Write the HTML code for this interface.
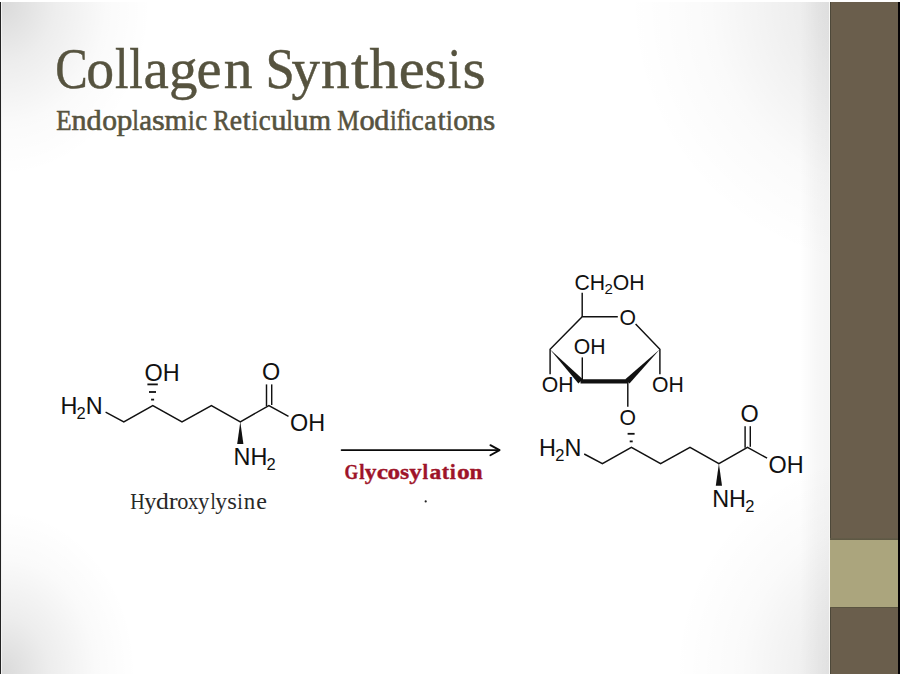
<!DOCTYPE html>
<html><head><meta charset="utf-8">
<style>
html,body{margin:0;padding:0;width:900px;height:675px;overflow:hidden;background:#fff;}
#slide{position:absolute;left:0;top:0;width:900px;height:675px;background:#fff;}
#bg{position:absolute;left:2px;top:2px;width:896px;height:672px;
 background:
  radial-gradient(ellipse 150px 175px at 0px 0px, rgba(0,0,0,0.15) 0%, rgba(0,0,0,0.07) 35%, rgba(0,0,0,0.02) 70%, rgba(0,0,0,0) 100%),
  radial-gradient(ellipse 135px 165px at 0px 672px, rgba(0,0,0,0.15) 0%, rgba(0,0,0,0.07) 35%, rgba(0,0,0,0.02) 70%, rgba(0,0,0,0) 100%),
  radial-gradient(circle 270px at 896px 0px, rgba(0,0,0,0.15) 0%, rgba(0,0,0,0.07) 35%, rgba(0,0,0,0.02) 70%, rgba(0,0,0,0) 100%),
  radial-gradient(circle 225px at 896px 672px, rgba(0,0,0,0.15) 0%, rgba(0,0,0,0.07) 35%, rgba(0,0,0,0.02) 70%, rgba(0,0,0,0) 100%),
  #ffffff;}
#shadow{position:absolute;left:800px;top:2px;width:29px;height:672px;background:linear-gradient(to right, rgba(0,0,0,0) 0%, rgba(0,0,0,0.03) 60%, rgba(0,0,0,0.045) 100%);}
#wline{position:absolute;left:829px;top:2px;width:1px;height:672px;background:#f8f8f6;}
#lline{position:absolute;left:0;top:2px;width:1px;height:672px;background:#222;}
#lline2{position:absolute;left:1px;top:2px;width:1px;height:672px;background:#f2f2f2;}
#bar{position:absolute;left:830px;top:2px;width:68px;height:672px;background:#6a5e4c;}
#barl{position:absolute;left:830px;top:2px;width:1px;height:672px;background:#4d4839;}
#khaki{position:absolute;left:830px;top:540px;width:68px;height:67px;background:#aba57d;}
#kt{position:absolute;left:830px;top:538px;width:68px;height:2px;background:linear-gradient(#645d49,#5c5642);}
#kb{position:absolute;left:830px;top:607px;width:68px;height:1px;background:#5a5440;}
#rblack{position:absolute;left:898px;top:2px;width:2px;height:672px;background:#050305;}
svg{position:absolute;left:0;top:0;}
.t{font-family:"Liberation Serif",serif;}
.s{font-family:"Liberation Sans",sans-serif;}
</style></head>
<body><div id="slide">
<div id="bg"></div><div id="shadow"></div><div id="wline"></div>
<div id="lline"></div><div id="lline2"></div>
<div id="bar"></div><div id="barl"></div><div id="khaki"></div><div id="kt"></div><div id="kb"></div><div id="rblack"></div>
<svg width="900" height="675" viewBox="0 0 900 675">
 <g class="t" fill="#56533f" stroke="#56533f" stroke-width="0.45">
  <g font-size="58">
  <text transform="translate(55.14,88) scale(0.840,1)">C</text>
  <text transform="translate(86.28,88) scale(0.960,1)">o</text>
  <text transform="translate(114.98,88) scale(0.840,1)">l</text>
  <text transform="translate(129.18,88) scale(0.840,1)">l</text>
  <text transform="translate(143.58,88) scale(0.983,1)">a</text>
  <text transform="translate(168.89,88) scale(0.983,1)">g</text>
  <text transform="translate(196.45,88) scale(0.973,1)">e</text>
  <text transform="translate(223.71,88) scale(0.994,1)">n</text>
  <text transform="translate(265.60,88) scale(0.908,1)">S</text>
  <text transform="translate(291.61,88) scale(0.982,1)">y</text>
  <text transform="translate(320.91,88) scale(0.991,1)">n</text>
  <text transform="translate(350.90,88) scale(1.120,1)">t</text>
  <text transform="translate(369.55,88) scale(0.991,1)">h</text>
  <text transform="translate(398.78,88) scale(1.009,1)">e</text>
  <text transform="translate(424.52,88) scale(0.968,1)">s</text>
  <text transform="translate(447.82,88) scale(0.840,1)">i</text>
  <text transform="translate(462.39,88) scale(1.027,1)">s</text>
  </g>
  <g font-size="30" stroke-width="0.6">
  <text transform="translate(56.28,130) scale(0.836,1)">E</text>
  <text transform="translate(71.50,130) scale(1.004,1)">n</text>
  <text transform="translate(86.54,130) scale(1.011,1)">d</text>
  <text transform="translate(102.26,130) scale(0.985,1)">o</text>
  <text transform="translate(116.74,130) scale(1.040,1)">p</text>
  <text transform="translate(132.20,130) scale(0.800,1)">l</text>
  <text transform="translate(139.28,130) scale(0.960,1)">a</text>
  <text transform="translate(151.90,130) scale(1.097,1)">s</text>
  <text transform="translate(164.45,130) scale(0.983,1)">m</text>
  <text transform="translate(188.00,130) scale(0.800,1)">i</text>
  <text transform="translate(195.33,130) scale(0.892,1)">c</text>
  <text transform="translate(213.29,130) scale(0.825,1)">R</text>
  <text transform="translate(229.78,130) scale(0.922,1)">e</text>
  <text transform="translate(242.70,130) scale(0.941,1)">t</text>
  <text transform="translate(251.40,130) scale(0.800,1)">i</text>
  <text transform="translate(258.63,130) scale(0.892,1)">c</text>
  <text transform="translate(271.00,130) scale(1.037,1)">u</text>
  <text transform="translate(286.35,130) scale(0.800,1)">l</text>
  <text transform="translate(293.00,130) scale(1.037,1)">u</text>
  <text transform="translate(308.76,130) scale(0.957,1)">m</text>
  <text transform="translate(337.29,130) scale(0.824,1)">M</text>
  <text transform="translate(359.54,130) scale(1.015,1)">o</text>
  <text transform="translate(374.25,130) scale(1.004,1)">d</text>
  <text transform="translate(390.00,130) scale(0.800,1)">i</text>
  <text transform="translate(396.85,130) scale(0.800,1)">fi</text>
  <text transform="translate(411.61,130) scale(0.917,1)">c</text>
  <text transform="translate(424.30,130) scale(0.936,1)">a</text>
  <text transform="translate(437.70,130) scale(0.941,1)">t</text>
  <text transform="translate(446.00,130) scale(0.800,1)">i</text>
  <text transform="translate(453.26,130) scale(0.985,1)">o</text>
  <text transform="translate(467.47,130) scale(1.053,1)">n</text>
  <text transform="translate(483.27,130) scale(1.026,1)">s</text>
  </g>
 </g>
 <!-- left molecule -->
 
 <g>
  <g fill="none" stroke="#111" stroke-width="1.45">
   <polyline points="105.6,412.2 123.8,421.8 152.8,405.5 182,421.8 211.4,405.5 240.3,421.8 268.9,405.6 288.5,416.4"/>
   <line x1="266.5" y1="406" x2="266.5" y2="384.4"/>
   <line x1="271.7" y1="405" x2="271.7" y2="384.4"/>
  </g>
  <g fill="#111">
   <polygon points="240.3,421.8 237.2,444 243.4,444"/>
   <rect x="151.1" y="398.7" width="3" height="1.8"/>
   <rect x="149" y="391.1" width="7" height="1.8"/>
  </g>
  <g class="s" fill="#111" font-size="23.4">
   <text x="60.5" y="414.2">H<tspan font-size="16.5" dx="-0.8" dy="4.8">2</tspan><tspan dy="-4.8">N</tspan></text>
   <text x="262" y="380.1">O</text>
   <text x="290" y="431.3">OH</text>
   <text x="233.6" y="465.3">NH<tspan font-size="16.5" dx="-0.8" dy="4.8">2</tspan></text>
  </g>
 </g>
 <rect x="147.4" y="383.5" width="10.4" height="1.8" fill="#111"/>
 <text class="s" x="144.5" y="381" font-size="23.4" fill="#111">OH</text>
 <g class="t" font-size="23" fill="#282828">
  <text transform="translate(130.15,509.3) scale(0.872,1)">H</text>
  <text transform="translate(144.14,509.3) scale(1.058,1)">y</text>
  <text transform="translate(156.06,509.3) scale(1.114,1)">d</text>
  <text transform="translate(168.71,509.3) scale(1.160,1)">r</text>
  <text transform="translate(177.37,509.3) scale(0.970,1)">o</text>
  <text transform="translate(188.07,509.3) scale(0.909,1)">x</text>
  <text transform="translate(198.05,509.3) scale(0.987,1)">y</text>
  <text transform="translate(210.39,509.3) scale(0.818,1)">l</text>
  <text transform="translate(215.34,509.3) scale(1.031,1)">y</text>
  <text transform="translate(227.22,509.3) scale(1.076,1)">s</text>
  <text transform="translate(237.37,509.3) scale(0.855,1)">i</text>
  <text transform="translate(243.80,509.3) scale(0.995,1)">n</text>
  <text transform="translate(256.35,509.3) scale(1.047,1)">e</text>
  </g>

 <!-- arrow -->
 <g fill="none" stroke="#0a0a0a" stroke-width="1.85" stroke-linecap="round" stroke-linejoin="round">
  <line x1="341.6" y1="450.1" x2="499" y2="450.1"/>
  <polyline points="490.4,445.1 499.6,450.1 490.4,455.2"/>
 </g>
 <g class="t" font-size="22" font-weight="bold" fill="#9e1429" stroke="#9e1429" stroke-width="0.35">
  <text transform="translate(344.45,479.0) scale(0.800,1)">G</text>
  <text transform="translate(359.18,479.0) scale(0.870,1)">l</text>
  <text transform="translate(364.70,479.0) scale(1.064,1)">y</text>
  <text transform="translate(376.70,479.0) scale(1.160,1)">c</text>
  <text transform="translate(387.44,479.0) scale(1.147,1)">o</text>
  <text transform="translate(400.06,479.0) scale(1.071,1)">s</text>
  <text transform="translate(409.20,479.0) scale(1.136,1)">y</text>
  <text transform="translate(422.57,479.0) scale(0.922,1)">l</text>
  <text transform="translate(429.46,479.0) scale(1.073,1)">a</text>
  <text transform="translate(441.75,479.0) scale(1.007,1)">t</text>
  <text transform="translate(449.75,479.0) scale(0.991,1)">i</text>
  <text transform="translate(456.97,479.0) scale(1.160,1)">o</text>
  <text transform="translate(469.47,479.0) scale(1.070,1)">n</text>
  </g>
 <circle cx="425.7" cy="501.4" r="1.1" fill="#222"/>

 <!-- right molecule -->
 <g transform="translate(478.6,41.8)">
  <g fill="none" stroke="#111" stroke-width="1.45">
   <polyline points="105.6,412.2 123.8,421.8 152.8,405.5 182,421.8 211.4,405.5 240.3,421.8 268.9,405.6 288.5,416.4"/>
   <line x1="266.5" y1="406" x2="266.5" y2="384.4"/>
   <line x1="271.7" y1="405" x2="271.7" y2="384.4"/>
  </g>
  <g fill="#111">
   <polygon points="240.3,421.8 237.2,444 243.4,444"/>
   <rect x="151.1" y="398.7" width="3" height="1.8"/>
   <rect x="149" y="391.1" width="7" height="1.8"/>
  </g>
  <g class="s" fill="#111" font-size="23.4">
   <text x="60.5" y="414.2">H<tspan font-size="16.5" dx="-0.8" dy="4.8">2</tspan><tspan dy="-4.8">N</tspan></text>
   <text x="262" y="380.1">O</text>
   <text x="290" y="431.3">OH</text>
   <text x="233.6" y="465.3">NH<tspan font-size="16.5" dx="-0.8" dy="4.8">2</tspan></text>
  </g>
 </g>
 <g fill="none" stroke="#111" stroke-width="1.45">
  <line x1="582.2" y1="292.8" x2="582.2" y2="316.7"/>
  <polyline points="617.8,316.7 582.2,316.7 550.1,349.3 550.1,374.3"/>
  <polyline points="635.6,323.9 659.9,349.2 659.9,374.2"/>
  <line x1="582.3" y1="381" x2="582.3" y2="357.4"/>
  <line x1="627.8" y1="381" x2="627.8" y2="406.8"/>
 </g>
 <g fill="#111">
  <polygon points="549.9,349.2 582.8,379.2 578.4,383.4"/>
  <polygon points="580.5,379.3 627.6,379.3 627.6,383.4 580.5,383.4"/>
  <polygon points="659.9,349.2 625.3,379.2 629.5,383.4"/>
 </g>
 <g class="s" fill="#111" font-size="21.2">
  <text x="574.4" y="289.7">CH<tspan font-size="15" dx="-0.6" dy="4.3">2</tspan><tspan dy="-4.3">OH</tspan></text>
  <text x="619.5" y="324.6">O</text>
  <text x="573.8" y="353.8">OH</text>
  <text x="541.8" y="392">OH</text>
  <text x="652" y="392">OH</text>
  <text x="619.5" y="424.6">O</text>
 </g>
</svg>
</div></body></html>
